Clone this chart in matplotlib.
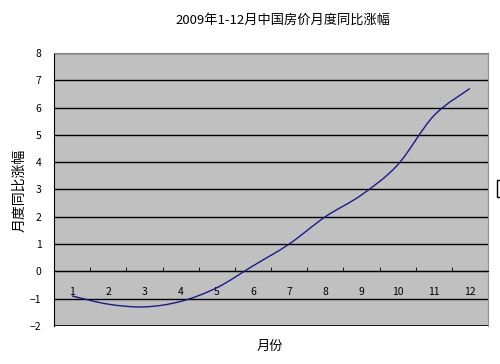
import matplotlib
matplotlib.use("Agg")
import matplotlib.pyplot as plt
from matplotlib.path import Path
from matplotlib.patches import PathPatch, Rectangle
from matplotlib.ticker import FixedLocator
import numpy as np

plt.rcParams['font.family'] = ['Noto Sans CJK SC', 'DejaVu Sans']

title = "2009年1-12月中国房价月度同比涨幅"
ylabel = "月度同比涨幅"
xlabel = "月份"
months = [1, 2, 3, 4, 5, 6, 7, 8, 9, 10, 11, 12]
month_labels = [str(m) for m in months]
values = [-0.9, -1.2, -1.3, -1.1, -0.6, 0.2, 1.0, 2.0, 2.8, 3.9, 5.7, 6.7]
yticks = [-2, -1, 0, 1, 2, 3, 4, 5, 6, 7, 8]

fig = plt.figure(figsize=(5.0, 3.64), dpi=100)
fig.patch.set_facecolor('white')
ax = fig.add_axes([0.108, 0.1044, 0.868, 0.7500])
ax.set_facecolor('#C0C0C0')
ax.set_xlim(0.5, 12.5)
ax.set_ylim(-2, 8)

# gridlines
ax.set_yticks(yticks)
ax.yaxis.grid(True, color='black', linewidth=1.0)
ax.set_axisbelow(True)
ax.tick_params(axis='y', length=0, pad=9, labelsize=7.5)

# smoothed line (Catmull-Rom style Bezier through the data points)
pts = np.column_stack([months, values]).astype(float)
ext = np.vstack([pts[0], pts, pts[-1]])
verts = [tuple(pts[0])]
codes = [Path.MOVETO]
for i in range(len(pts) - 1):
    p0, p1, p2, p3 = ext[i], ext[i + 1], ext[i + 2], ext[i + 3]
    c1 = p1 + (p2 - p0) / 6.0
    c2 = p2 - (p3 - p1) / 6.0
    verts += [tuple(c1), tuple(c2), tuple(p2)]
    codes += [Path.CURVE4] * 3
ax.add_patch(PathPatch(Path(verts, codes), facecolor='none',
                       edgecolor='#1a1a8c', linewidth=1.0, zorder=3))

# x axis crossing at 0
ax.spines['bottom'].set_position(('data', 0))
ax.spines['bottom'].set_color('black')
ax.spines['left'].set_color('black')
ax.spines['top'].set_color('#808080')
ax.spines['right'].set_color('#909090')
ax.set_xticks(months)
ax.set_xticklabels(month_labels)
ax.xaxis.set_minor_locator(FixedLocator([m + 0.5 for m in months[:-1]]))
ax.tick_params(axis='x', which='major', length=0, pad=11, labelsize=7.5)
ax.tick_params(axis='x', which='minor', direction='in', length=3, color='black')

# bottom border of plot area
ax.axhline(-2, color='black', linewidth=1.2, zorder=4)

fig.text(0.566, 0.945, title, ha='center', va='center', fontsize=9.5)
fig.text(0.038, 0.478, ylabel, ha='center', va='center', rotation=90, fontsize=10)
fig.text(0.540, 0.047, xlabel, ha='center', va='center', fontsize=9.5)

# clipped legend box remnant at right edge
fig.patches.append(Rectangle((0.994, 0.459), 0.02, 0.046, transform=fig.transFigure,
                             facecolor='white', edgecolor='black', linewidth=1.0))

fig.savefig('out.png', dpi=100)
